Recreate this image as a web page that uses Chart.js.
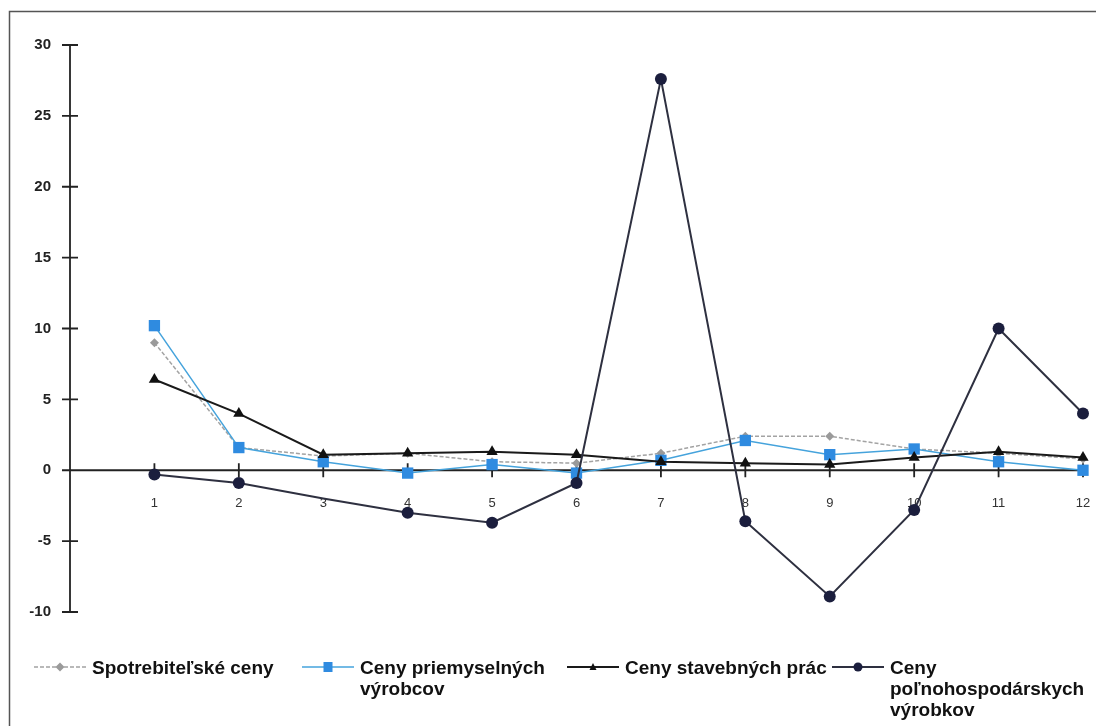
<!DOCTYPE html>
<html>
<head>
<meta charset="utf-8">
<script src="https://cdn.jsdelivr.net/npm/chart.js@4/dist/chart.umd.min.js"></script>
<style>
  html, body { margin: 0; padding: 0; background: #fff; }
  #wrap { position: relative; width: 1096px; height: 726px; overflow: hidden; }
  canvas { position: absolute; left: 0; top: 0; }
  .lg { position: absolute; top: 657px; display: flex; align-items: flex-start;
        font-family: "Liberation Sans", Arial, sans-serif; font-weight: bold;
        font-size: 19px; line-height: 21px; color: #111; }
  .lg svg { flex: none; margin-right: 6px; }
</style>
</head>
<body>
<div id="wrap">
  <canvas id="c" width="1096" height="726"></canvas>
</div>
<script>
// ---- data ----
const categories = [1, 2, 3, 4, 5, 6, 7, 8, 9, 10, 11, 12];
const yTicks = [-10, -5, 0, 5, 10, 15, 20, 25, 30];
const seriesNames = [
  ['Spotrebiteľské ceny'],
  ['Ceny priemyselných', 'výrobcov'],
  ['Ceny stavebných prác'],
  ['Ceny', 'poľnohospodárskych', 'výrobkov']
];
const spotrebitelske   = [9.0, 1.6, 1.0, 1.2, 0.6, 0.5, 1.2, 2.4, 2.4, 1.5, 1.2, 0.8];
const priemyselne      = [10.2, 1.6, 0.6, -0.2, 0.4, -0.2, 0.7, 2.1, 1.1, 1.5, 0.6, 0.0];
const stavebne         = [6.4, 4.0, 1.1, 1.2, 1.3, 1.1, 0.6, 0.5, 0.4, 0.9, 1.3, 0.9];
const polnohospodarske = [-0.3, -0.9, -2.0, -3.0, -3.7, -0.9, 27.6, -3.6, -8.9, -2.8, 10.0, 4.0];

const pts = arr => arr.map((v, i) => ({ x: categories[i], y: v }));

const styles = [
  { line: '#a3a3a3', fill: '#9a9a9a', dash: [4, 2], width: 1.5, pt: 'rectRot', r: 4.5 },
  { line: '#45a3dc', fill: '#2f8be0', dash: [], width: 1.5, pt: 'rect', r: 8 },
  { line: '#1a1a1a', fill: '#111111', dash: [], width: 2, pt: 'triangle', r: 6.5 },
  { line: '#2e3040', fill: '#1b1e3d', dash: [], width: 2, pt: 'circle', r: 6 }
];
const values = [spotrebitelske, priemyselne, stavebne, polnohospodarske];
const orders = [3, 2, 1, 0];

const datasets = values.map((arr, k) => ({
  label: seriesNames[k].join(' '),
  data: pts(arr),
  borderColor: styles[k].line,
  borderWidth: styles[k].width,
  borderDash: styles[k].dash,
  backgroundColor: styles[k].fill,
  pointBackgroundColor: styles[k].fill,
  pointBorderColor: styles[k].fill,
  pointBorderWidth: 0,
  pointStyle: styles[k].pt,
  pointRadius: k === 3 ? arr.map((v, i) => (i === 2 ? 0 : styles[k].r)) : styles[k].r,
  pointHoverRadius: styles[k].r,
  tension: 0,
  clip: false,
  order: orders[k]
}));

const framePlugin = {
  id: 'frame',
  beforeDraw(chart) {
    const ctx = chart.ctx;
    ctx.save();
    ctx.fillStyle = '#fff';
    ctx.fillRect(0, 0, chart.width, chart.height);
    ctx.strokeStyle = '#555';
    ctx.lineWidth = 1.5;
    ctx.strokeRect(9.5, 11.5, 1110, 740);
    ctx.restore();
  }
};

const axesPlugin = {
  id: 'crossAxes',
  beforeDatasetsDraw(chart) {
    const ctx = chart.ctx;
    const xs = chart.scales.x, ys = chart.scales.y;
    const x0 = xs.getPixelForValue(0);
    const y0 = ys.getPixelForValue(0);
    ctx.save();
    ctx.strokeStyle = '#222';
    ctx.lineWidth = 1.8;
    ctx.beginPath();
    ctx.moveTo(x0, ys.getPixelForValue(yTicks[yTicks.length - 1]));
    ctx.lineTo(x0, ys.getPixelForValue(yTicks[0]));
    yTicks.forEach(v => {
      const y = ys.getPixelForValue(v);
      ctx.moveTo(x0 - 8, y);
      ctx.lineTo(x0 + 8, y);
    });
    ctx.moveTo(x0, y0);
    ctx.lineTo(xs.getPixelForValue(categories[categories.length - 1]) + 4, y0);
    categories.forEach(c => {
      const x = xs.getPixelForValue(c);
      ctx.moveTo(x, y0 - 7);
      ctx.lineTo(x, y0 + 7);
    });
    ctx.stroke();
    ctx.restore();
  }
};

new Chart(document.getElementById('c'), {
  type: 'line',
  data: { datasets },
  options: {
    responsive: false,
    animation: false,
    events: [],
    layout: { padding: { top: 45, right: 13, bottom: 114, left: 0 } },
    plugins: { legend: { display: false }, tooltip: { enabled: false } },
    scales: {
      x: {
        type: 'linear',
        position: { y: 0 },
        min: 0, max: 12,
        afterFit: s => { s.paddingLeft = 0; s.paddingRight = 0; },
        grid: { display: false, drawTicks: false },
        border: { display: false },
        ticks: {
          stepSize: 1,
          padding: 25,
          maxRotation: 0,
          color: '#333',
          font: { family: '"Liberation Sans", Arial, sans-serif', size: 13 },
          callback: v => (categories.includes(v) ? String(v) : '')
        }
      },
      y: {
        type: 'linear',
        min: yTicks[0], max: yTicks[yTicks.length - 1],
        afterFit: s => { s.width = 70; },
        grid: { display: false, drawTicks: false },
        border: { display: false },
        ticks: {
          stepSize: 5,
          padding: 19,
          color: '#222',
          font: { family: '"Liberation Sans", Arial, sans-serif', size: 15, weight: 'bold' }
        }
      }
    }
  },
  plugins: [framePlugin, axesPlugin]
});

// ---- HTML legend ----
const legendLefts = [34, 302, 567, 832];
const wrap = document.getElementById('wrap');
function markerSvg(s) {
  const c = 26, cy = 10;
  let m = '';
  if (s.pt === 'rectRot') m = `<polygon points="${c},${cy-4.5} ${c+4.5},${cy} ${c},${cy+4.5} ${c-4.5},${cy}" fill="${s.fill}"/>`;
  if (s.pt === 'rect') m = `<rect x="${c-4.5}" y="${cy-5}" width="9" height="10" fill="${s.fill}"/>`;
  if (s.pt === 'triangle') m = `<polygon points="${c},${cy-4} ${c+3.5},${cy+3} ${c-3.5},${cy+3}" fill="${s.fill}"/>`;
  if (s.pt === 'circle') m = `<circle cx="${c}" cy="${cy}" r="4.5" fill="${s.fill}"/>`;
  const dash = s.dash.length ? `stroke-dasharray="${s.dash.join(',')}"` : '';
  return `<svg width="52" height="21" viewBox="0 0 52 21"><line x1="0" y1="${cy}" x2="52" y2="${cy}" stroke="${s.line}" stroke-width="${s.width}" ${dash}/>${m}</svg>`;
}
seriesNames.forEach((lines, k) => {
  const d = document.createElement('div');
  d.className = 'lg';
  d.style.left = legendLefts[k] + 'px';
  d.innerHTML = markerSvg(styles[k]) + '<div>' + lines.join('<br>') + '</div>';
  wrap.appendChild(d);
});
</script>
</body>
</html>
